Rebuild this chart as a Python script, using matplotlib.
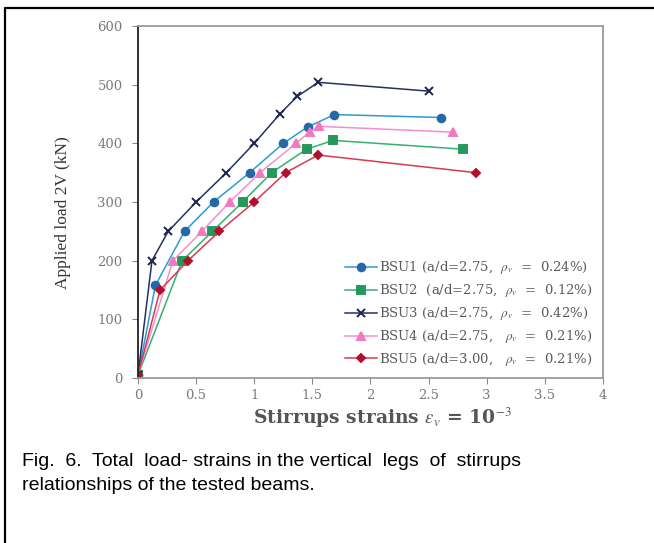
import matplotlib
matplotlib.use("Agg")
import matplotlib.pyplot as plt
from matplotlib.lines import Line2D

W, H = 654, 543

# strain (x 10^-3) and applied load 2V (kN)
bsu1_strain = [0, 0.15, 0.40, 0.65, 0.96, 1.25, 1.46, 1.69, 2.61]
bsu1_load = [5, 158, 250, 300, 350, 400, 428, 449, 444]

bsu2_strain = [0, 0.38, 0.64, 0.90, 1.15, 1.45, 1.68, 2.80]
bsu2_load = [5, 200, 250, 300, 350, 390, 405, 390]

bsu3_strain = [0, 0.12, 0.26, 0.50, 0.76, 1.00, 1.22, 1.37, 1.55, 2.50]
bsu3_load = [5, 200, 250, 300, 350, 400, 450, 480, 504, 489]

bsu4_strain = [0, 0.30, 0.55, 0.79, 1.05, 1.36, 1.48, 1.56, 2.71]
bsu4_load = [5, 200, 250, 300, 350, 400, 420, 429, 419]

bsu5_strain = [0, 0.19, 0.43, 0.70, 1.00, 1.27, 1.55, 2.91]
bsu5_load = [5, 150, 200, 250, 300, 350, 380, 350]

labels = [
    r"BSU1 (a/d=2.75,  $\rho_v$  =  0.24%)",
    r"BSU2  (a/d=2.75,  $\rho_v$  =  0.12%)",
    r"BSU3 (a/d=2.75,  $\rho_v$  =  0.42%)",
    r"BSU4 (a/d=2.75,   $\rho_v$  =  0.21%)",
    r"BSU5 (a/d=3.00,   $\rho_v$  =  0.21%)",
]

x_ticks = [0, 0.5, 1, 1.5, 2, 2.5, 3, 3.5, 4]
x_ticklabels = ["0", "0.5", "1", "1.5", "2", "2.5", "3", "3.5", "4"]
y_ticks = [0, 100, 200, 300, 400, 500, 600]

caption = ["Fig.  6.  Total  load- strains in the vertical  legs  of  stirrups",
           "relationships of the tested beams."]

plt.rcParams["mathtext.fontset"] = "stix"

fig = plt.figure(figsize=(W / 100, H / 100), dpi=100)
fig.patch.set_facecolor("white")

# axes box placed in pixel terms
left, right, top, bottom = 138, 603, 26, 378
ax = fig.add_axes([left / W, 1 - bottom / H, (right - left) / W, (bottom - top) / H])

series = [
    (bsu1_strain, bsu1_load, "#2b9bd6", "#2468a8", "o", 5.5),
    (bsu2_strain, bsu2_load, "#34b070", "#249a5a", "s", 5.5),
    (bsu3_strain, bsu3_load, "#26305e", "#1c2450", "x", 5.5),
    (bsu4_strain, bsu4_load, "#f48fcf", "#f07ac0", "^", 5.5),
    (bsu5_strain, bsu5_load, "#d63a4e", "#b0102c", "D", 4.5),
]
for (xs, ys, lc, mc, mk, ms), lab in zip(series, labels):
    ax.plot(xs, ys, color=lc, linewidth=1.1, marker=mk, markersize=ms,
            markerfacecolor=mc, markeredgecolor=mc, markeredgewidth=1.4,
            label=lab)

ax.set_xlim(0, 4)
ax.set_ylim(0, 600)
ax.set_xticks(x_ticks)
ax.set_xticklabels(x_ticklabels)
ax.set_yticks(y_ticks)

for t in ax.get_xticklabels() + ax.get_yticklabels():
    t.set_fontfamily("DejaVu Serif")
    t.set_fontsize(9.5)
    t.set_color("#7a7a7a")
ax.tick_params(axis="both", direction="out", length=4, width=0.8, color="#888888")
ax.tick_params(axis="x", pad=4)
ax.tick_params(axis="y", pad=7)

ax.spines["left"].set_color("#222222")
ax.spines["left"].set_linewidth(1.3)
for s in ["top", "right", "bottom"]:
    ax.spines[s].set_color("#9a9a9a")
    ax.spines[s].set_linewidth(1.3)

ax.set_ylabel("Applied load 2V (kN)", family="Liberation Serif", fontsize=12.5,
              color="#333333")
ax.yaxis.set_label_coords(-0.145, 0.47)
ax.set_xlabel(r"Stirrups strains $\varepsilon_v$ = 10$^{-3}$", family="DejaVu Serif",
              fontsize=13.5, fontweight="bold", color="#555555")
ax.xaxis.set_label_coords(0.525, -0.08)

leg = ax.legend(loc="lower right", bbox_to_anchor=(1.0, 0.0), frameon=False,
                fontsize=9.5, handlelength=2.4, handletextpad=0.2,
                labelspacing=0.45, borderaxespad=0.35)
for t in leg.get_texts():
    t.set_fontfamily("DejaVu Serif")
    t.set_color("#5a5a5a")

# outer frame (cut at the right and bottom of the image)
fig.add_artist(Line2D([5 / W, 5 / W, 1.0], [0.0, 1 - 8 / H, 1 - 8 / H],
                      color="black", linewidth=1.6, transform=fig.transFigure))

fig.text(22 / W, 1 - 461 / H, caption[0], family="Liberation Sans", fontsize=14,
         va="center", ha="left", color="black")
fig.text(22 / W, 1 - 486 / H, caption[1], family="Liberation Sans", fontsize=14,
         va="center", ha="left", color="black")

fig.savefig("out.png", dpi=100)
